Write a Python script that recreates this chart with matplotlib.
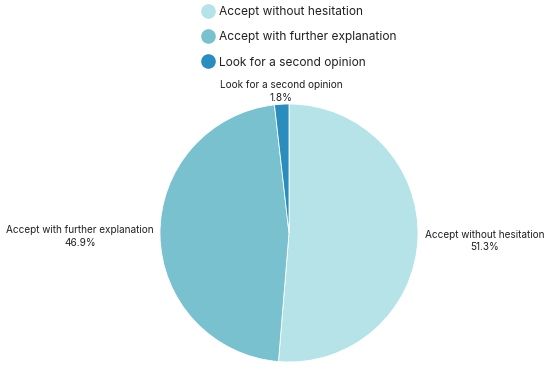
import numpy as np
import matplotlib

matplotlib.use("Agg")
import matplotlib.pyplot as plt
from matplotlib.lines import Line2D

# slice data, drawn clockwise from 12 o'clock
labels = ["Accept without hesitation", "Accept with further explanation", "Look for a second opinion"]
shares = [51.3, 46.9, 1.8]
colors = ["#b5e3e8", "#79c1ce", "#2b8cbe"]
label_dist = [1.52, 1.62, 1.10]

plt.rcParams.update({"font.family": ["Inter", "DejaVu Sans"], "font.size": 8})

W, H = 550, 371
fig = plt.figure(figsize=(W / 100, H / 100), dpi=100)
cx, cy, r = 289, 233, 129
ax = fig.add_axes([(cx - r) / W, (H - cy - r) / H, 2 * r / W, 2 * r / H])

wedges, _ = ax.pie(shares, colors=colors, startangle=90, counterclock=False,
                   wedgeprops={"edgecolor": "white", "linewidth": 0.6})
ax.set_xlim(-1, 1)
ax.set_ylim(-1, 1)

for w, lab, val, d in zip(wedges, labels, shares, label_dist):
    ang = np.deg2rad((w.theta1 + w.theta2) / 2)
    x, y = d * np.cos(ang), d * np.sin(ang)
    ax.text(x, y, f"{lab}\n{val}%", ha="center", va="center", fontsize=7.2,
            color="#222222", linespacing=1.35, clip_on=False)

handles = [Line2D([], [], marker="o", linestyle="none", markersize=9.5,
                  markerfacecolor=c, markeredgecolor=c) for c in colors]
fig.legend(handles, labels, loc="upper center", bbox_to_anchor=(0.544, 1.012),
           frameon=False, fontsize=8.6, labelspacing=1.1, handletextpad=0.35,
           handlelength=1.0, labelcolor="#222222")

fig.savefig("out.png", dpi=100, facecolor="white")
